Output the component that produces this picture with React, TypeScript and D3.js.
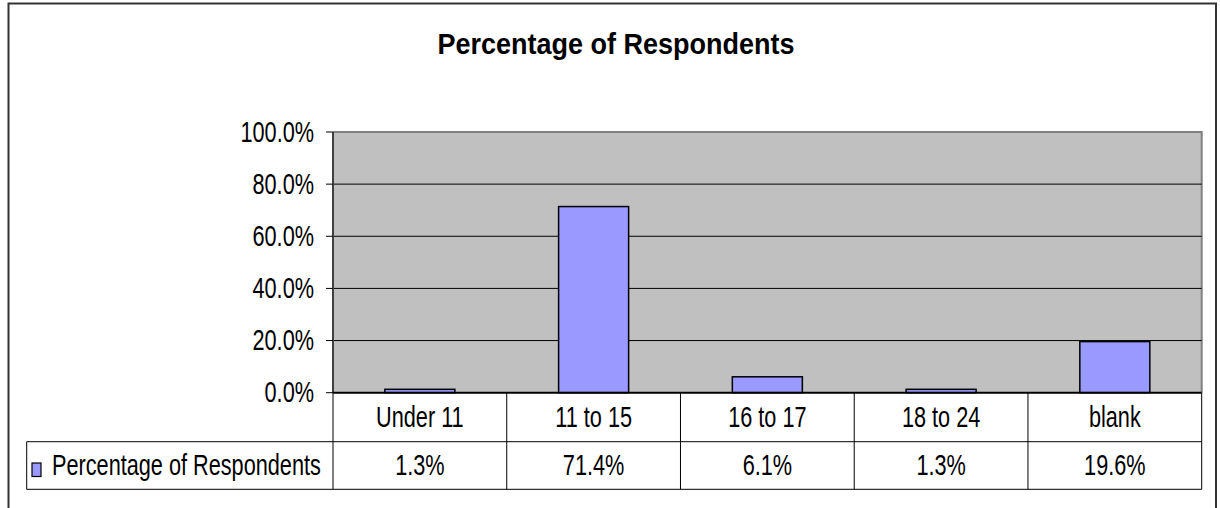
import * as d3 from "d3";

const categories = ["Under 11", "11 to 15", "16 to 17", "18 to 24", "blank"];
const values = [1.3, 71.4, 6.1, 1.3, 19.6];
const valueLabels = ["1.3%", "71.4%", "6.1%", "1.3%", "19.6%"];
const yTicks = [0, 20, 40, 60, 80, 100];
const seriesName = "Percentage of Respondents";
const title = "Percentage of Respondents";

const width = 1220;
const height = 508;
const plotLeft = 333;
const plotRight = 1201.7;
const plotTop = 132;
const plotBottom = 392.7;
const rowMid = 441.7;
const tableBottom = 489.3;
const legendLeft = 26.7;
const font = "'Liberation Sans', Arial, sans-serif";
const fs = 21.7;
const stretch = 1.33;

// text is stretched vertically in the original, like the old Excel render
function Label(props: { x: number; y: number; anchor?: string; size?: number; sy?: number; bold?: boolean; children: string }) {
    const { x, y, anchor = "start", size = fs, sy = stretch, bold = false } = props;
    return (
        <text transform={`translate(${x},${y}) scale(1,${sy})`} textAnchor={anchor}
            fontSize={size} fontWeight={bold ? "bold" : "normal"} fill="#000">{props.children}</text>
    );
}

export default function App() {
    const x = d3.scaleBand(categories, [plotLeft, plotRight]).padding(0);
    const y = d3.scaleLinear([0, 100], [plotBottom, plotTop]);
    const barW = x.bandwidth() * 0.403;
    const fmt = (d: number) => d.toFixed(1) + "%";

    return (
        <svg width={width} height={height} style={{ position: "absolute", left: 0, top: 0, fontFamily: font }}>
            <rect x={0} y={0} width={width} height={height} fill="white" />
            {/* outer chart border */}
            <rect x={8.5} y={3.5} width={1207.5} height={540} fill="none" stroke="#333" strokeWidth={2} />

            <Label x={616} y={54} anchor="middle" size={27} sy={1.07} bold>{title}</Label>

            {/* plot area */}
            <rect x={plotLeft} y={plotTop} width={plotRight - plotLeft} height={plotBottom - plotTop} fill="#C0C0C0" />
            <path d={`M${plotLeft},${plotTop}H${plotRight}V${plotBottom}`} fill="none" stroke="#808080" strokeWidth={2} />
            {yTicks.filter((t) => t > 0 && t < 100).map((t) => (
                <line key={t} x1={plotLeft} x2={plotRight} y1={y(t)} y2={y(t)} stroke="#000" strokeWidth={1} />
            ))}

            {/* bars */}
            {values.map((v, i) => (
                <rect key={i}
                    x={(x(categories[i]) as number) + (x.bandwidth() - barW) / 2}
                    y={y(v)} width={barW} height={plotBottom - y(v)}
                    fill="#9999FF" stroke="#000" strokeWidth={1.5} />
            ))}

            {/* y axis */}
            <line x1={plotLeft} x2={plotLeft} y1={plotTop} y2={plotBottom} stroke="#404040" strokeWidth={2} />
            {yTicks.map((t) => (
                <g key={t}>
                    <line x1={326} x2={plotLeft} y1={y(t)} y2={y(t)} stroke="#000" strokeWidth={1} />
                    <Label x={314} y={y(t) + 9.5} anchor="end">{fmt(t)}</Label>
                </g>
            ))}
            <line x1={plotLeft} x2={plotRight} y1={plotBottom} y2={plotBottom} stroke="#000" strokeWidth={2} />

            {/* data table */}
            <line x1={legendLeft} x2={plotRight} y1={rowMid} y2={rowMid} stroke="#000" strokeWidth={1} />
            <line x1={legendLeft} x2={plotRight} y1={tableBottom} y2={tableBottom} stroke="#000" strokeWidth={1} />
            <line x1={legendLeft} x2={legendLeft} y1={rowMid} y2={tableBottom} stroke="#000" strokeWidth={1} />
            {categories.map((c) => (
                <line key={c} x1={x(c)} x2={x(c)} y1={plotBottom} y2={tableBottom} stroke="#000" strokeWidth={1} />
            ))}
            <line x1={plotRight} x2={plotRight} y1={plotBottom} y2={tableBottom} stroke="#000" strokeWidth={1} />
            {categories.map((c, i) => (
                <g key={c}>
                    <Label x={(x(c) as number) + x.bandwidth() / 2} y={(plotBottom + rowMid) / 2 + 9.5} anchor="middle">{c}</Label>
                    <Label x={(x(c) as number) + x.bandwidth() / 2} y={(rowMid + tableBottom) / 2 + 9.5} anchor="middle">{valueLabels[i]}</Label>
                </g>
            ))}
            <rect x={32} y={463} width={9} height={13.5} fill="#9999FF" stroke="#000" strokeWidth={1.2} />
            <Label x={52} y={(rowMid + tableBottom) / 2 + 9.5}>{seriesName}</Label>
        </svg>
    );
}
